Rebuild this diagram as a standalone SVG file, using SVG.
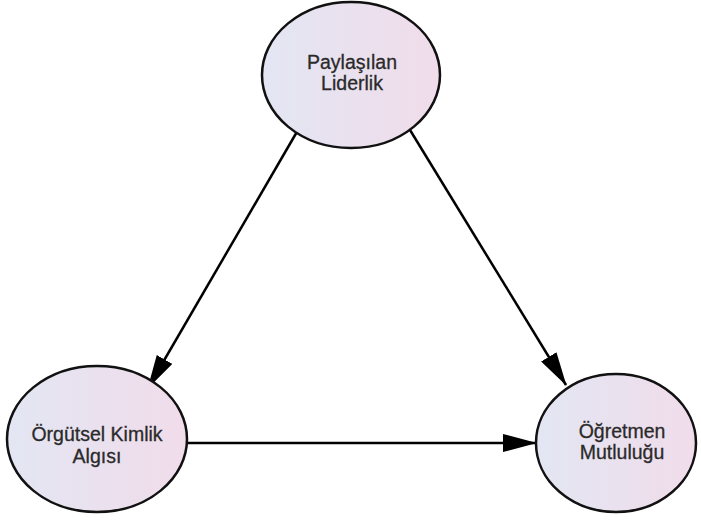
<svg xmlns="http://www.w3.org/2000/svg" width="701" height="520" viewBox="0 0 701 520">
<style>
.node{stroke:#111;stroke-width:2.5;fill:url(#g)}
.lbl{font-family:"Liberation Sans",Arial,sans-serif;font-size:19.5px;fill:#2a2a2a;text-anchor:middle;stroke:#2a2a2a;stroke-width:0.3}
.edge{stroke:#000;stroke-width:2.5;fill:none;marker-end:url(#ah)}
</style>
<defs>
<linearGradient id="g" x1="0" y1="0" x2="1" y2="0">
<stop offset="0" stop-color="#e3e6f3"/>
<stop offset="1" stop-color="#f1dcea"/>
</linearGradient>
<marker id="ah" viewBox="0 0 34 18" refX="33" refY="9" markerWidth="34" markerHeight="18" markerUnits="userSpaceOnUse" orient="auto">
<path d="M0,0 L34,9 L0,18 Z" fill="#000"/>
</marker>
</defs>
<rect width="701" height="520" fill="#fff"/>
<g id="connectors">
<line class="edge" x1="298" y1="130" x2="148" y2="388"/>
<line class="edge" x1="410" y1="130" x2="566" y2="385"/>
<line class="edge" x1="187" y1="443" x2="536" y2="443"/>
</g>
<g id="paylasilan-liderlik">
<ellipse class="node" cx="351" cy="75" rx="89" ry="73"/>
<text class="lbl" x="352" y="69">Paylaşılan</text>
<text class="lbl" x="352" y="90">Liderlik</text>
</g>
<g id="orgutsel-kimlik-algisi">
<ellipse class="node" cx="97" cy="439" rx="90" ry="73"/>
<text class="lbl" x="97" y="441">Örgütsel Kimlik</text>
<text class="lbl" x="97" y="463">Algısı</text>
</g>
<g id="ogretmen-mutlulugu">
<ellipse class="node" cx="616" cy="443" rx="80" ry="69"/>
<text class="lbl" x="622" y="438">Öğretmen</text>
<text class="lbl" x="622" y="459">Mutluluğu</text>
</g>
</svg>
